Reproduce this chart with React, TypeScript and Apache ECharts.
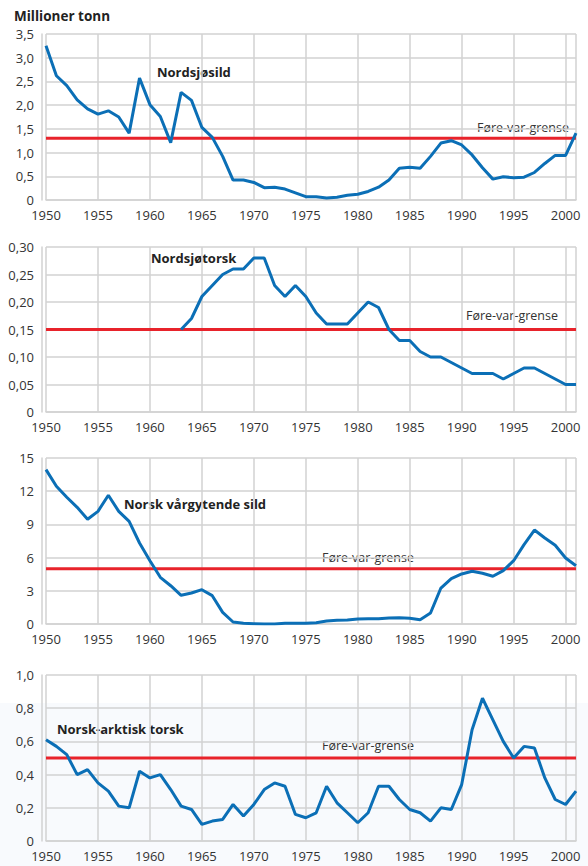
import React, { useEffect, useRef } from "react";
import * as echarts from "echarts";

const years = Array.from({ length: 52 }, (_, i) => 1950 + i);

const nordsjosild = [
  3.25, 2.62, 2.41, 2.11, 1.92, 1.81, 1.88, 1.75, 1.41, 2.57,
  2.01, 1.76, 1.21, 2.27, 2.10, 1.53, 1.32, 0.92, 0.42, 0.42,
  0.37, 0.26, 0.27, 0.23, 0.15, 0.07, 0.07, 0.04, 0.06, 0.10,
  0.12, 0.18, 0.27, 0.42, 0.67, 0.69, 0.67, 0.92, 1.20, 1.25,
  1.16, 0.95, 0.68, 0.44, 0.49, 0.47, 0.48, 0.58, 0.77, 0.94,
  0.94, 1.41,
];

const nordsjotorskYears = Array.from({ length: 39 }, (_, i) => 1963 + i);
const nordsjotorsk = [
  0.15, 0.17, 0.21, 0.23, 0.25, 0.26, 0.26, 0.28, 0.28, 0.23,
  0.21, 0.23, 0.21, 0.18, 0.16, 0.16, 0.16, 0.18, 0.20, 0.19,
  0.15, 0.13, 0.13, 0.11, 0.10, 0.10, 0.09, 0.08, 0.07, 0.07,
  0.07, 0.06, 0.07, 0.08, 0.08, 0.07, 0.06, 0.05, 0.05,
];

const norskVargytendeSild = [
  13.95, 12.44, 11.45, 10.54, 9.46, 10.18, 11.63, 10.18, 9.28, 7.32,
  5.72, 4.22, 3.46, 2.59, 2.8, 3.1, 2.56, 1.05, 0.18, 0.06,
  0.03, 0.0, 0.0, 0.06, 0.06, 0.06, 0.12, 0.27, 0.33, 0.36,
  0.45, 0.48, 0.48, 0.54, 0.57, 0.51, 0.39, 0.99, 3.25, 4.1,
  4.52, 4.76, 4.58, 4.31, 4.82, 5.72, 7.17, 8.49, 7.77, 7.11,
  5.96, 5.27,
];

const norskArktiskTorsk = [
  0.61, 0.57, 0.52, 0.40, 0.43, 0.35, 0.30, 0.21, 0.20, 0.42,
  0.38, 0.40, 0.31, 0.21, 0.19, 0.10, 0.12, 0.13, 0.22, 0.15,
  0.22, 0.31, 0.35, 0.33, 0.16, 0.14, 0.17, 0.33, 0.23, 0.17,
  0.11, 0.17, 0.33, 0.33, 0.25, 0.19, 0.17, 0.12, 0.20, 0.19,
  0.34, 0.67, 0.86, 0.73, 0.60, 0.50, 0.57, 0.56, 0.38, 0.25,
  0.22, 0.30,
];

const panelTitles = ["Nordsjøsild", "Nordsjøtorsk", "Norsk vårgytende sild", "Norsk-arktisk torsk"];
const limits = [1.3, 0.15, 5, 0.5];
const yMax = [3.5, 0.3, 15, 1.0];
const yStep = [0.5, 0.05, 3, 0.2];
const yDecimals = [1, 2, 0, 1];
const limitLabel = "Føre-var-grense";
const unitLabel = "Millioner tonn";

const FONT = "'Open Sans', 'Noto Sans', sans-serif";
const BLUE = "#0b6fb6";
const RED = "#e8232b";
const GRID = "#d2d2d2";
const TEXT = "#333333";

const tops = [34, 247, 458, 675];
const heights = [166, 165, 166, 166];

export default function App() {
  const ref = useRef<HTMLDivElement>(null);

  useEffect(() => {
    if (!ref.current) return;
    const chart = echarts.init(ref.current, null, { renderer: "svg" });

    const seriesData = [
      years.map((y, i) => [y, nordsjosild[i]]),
      nordsjotorskYears.map((y, i) => [y, nordsjotorsk[i]]),
      years.map((y, i) => [y, norskVargytendeSild[i]]),
      years.map((y, i) => [y, norskArktiskTorsk[i]]),
    ];

    const grids = tops.map((t, i) => ({ left: 46, right: 12, top: t, height: heights[i] }));

    const xAxes = tops.map((_, i) => ({
      type: "value",
      gridIndex: i,
      min: 1950,
      max: 2001,
      interval: 5,
      axisLine: { show: true, lineStyle: { color: GRID, width: 1.5 } },
      axisTick: { show: false },
      splitLine: { show: true, lineStyle: { color: GRID, width: 1.5 } },
      axisLabel: {
        color: TEXT,
        fontFamily: FONT,
        fontSize: 13,
        margin: 8,
        showMaxLabel: false,
        formatter: (v: number) => (v % 5 === 0 ? String(v) : ""),
      },
    }));

    const yAxes = tops.map((_, i) => ({
      type: "value",
      gridIndex: i,
      min: 0,
      max: yMax[i],
      interval: yStep[i],
      offset: 4,
      axisLine: { show: true, lineStyle: { color: GRID, width: 1.5 } },
      axisTick: { show: false },
      splitLine: { show: true, lineStyle: { color: GRID, width: 1.5 } },
      axisLabel: {
        color: TEXT,
        fontFamily: FONT,
        fontSize: 13,
        margin: 8,
        formatter: (v: number) => (v === 0 ? "0" : v.toFixed(yDecimals[i]).replace(".", ",")),
      },
    }));

    const series: any[] = [];
    tops.forEach((_, i) => {
      series.push({
        type: "line",
        xAxisIndex: i,
        yAxisIndex: i,
        data: [[1950, limits[i]], [2001, limits[i]]],
        symbol: "none",
        lineStyle: { color: RED, width: 3 },
        z: 3,
      });
      series.push({
        type: "line",
        xAxisIndex: i,
        yAxisIndex: i,
        data: seriesData[i],
        symbol: "none",
        lineStyle: { color: BLUE, width: 3 },
        z: 4,
      });
    });

    const titleStyle = { fontFamily: FONT, fontSize: 13, fontWeight: "bold", fill: "#222" };
    const limitStyle = { fontFamily: FONT, fontSize: 12.5, fill: TEXT };

    chart.setOption({
      animation: false,
      backgroundColor: "#ffffff",
      grid: grids,
      xAxis: xAxes,
      yAxis: yAxes,
      series,
      graphic: [
        { type: "rect", z: -10, silent: true, shape: { x: 0, y: 703, width: 588, height: 163 }, style: { fill: "#f8fafd" } },
        { type: "text", x: 14, y: 16, style: { ...titleStyle, text: unitLabel, textVerticalAlign: "middle", fontSize: 13.5 } },
        { type: "text", x: 157, y: 72, style: { ...titleStyle, text: panelTitles[0], textVerticalAlign: "middle" } },
        { type: "text", x: 151, y: 258, style: { ...titleStyle, text: panelTitles[1], textVerticalAlign: "middle" } },
        { type: "text", x: 124, y: 504, style: { ...titleStyle, text: panelTitles[2], textVerticalAlign: "middle" } },
        { type: "text", x: 57, y: 729, style: { ...titleStyle, text: panelTitles[3], textVerticalAlign: "middle" } },
        { type: "text", x: 569, y: 127, style: { ...limitStyle, text: limitLabel, textAlign: "right", textVerticalAlign: "middle" } },
        { type: "text", x: 558, y: 315, style: { ...limitStyle, text: limitLabel, textAlign: "right", textVerticalAlign: "middle" } },
        { type: "text", x: 322, y: 557, style: { ...limitStyle, text: limitLabel, textVerticalAlign: "middle" } },
        { type: "text", x: 322, y: 745, style: { ...limitStyle, text: limitLabel, textVerticalAlign: "middle" } },
      ],
    });

    return () => chart.dispose();
  }, []);

  return <div ref={ref} style={{ width: 588, height: 866, position: "absolute", left: 0, top: 0 }} />;
}
